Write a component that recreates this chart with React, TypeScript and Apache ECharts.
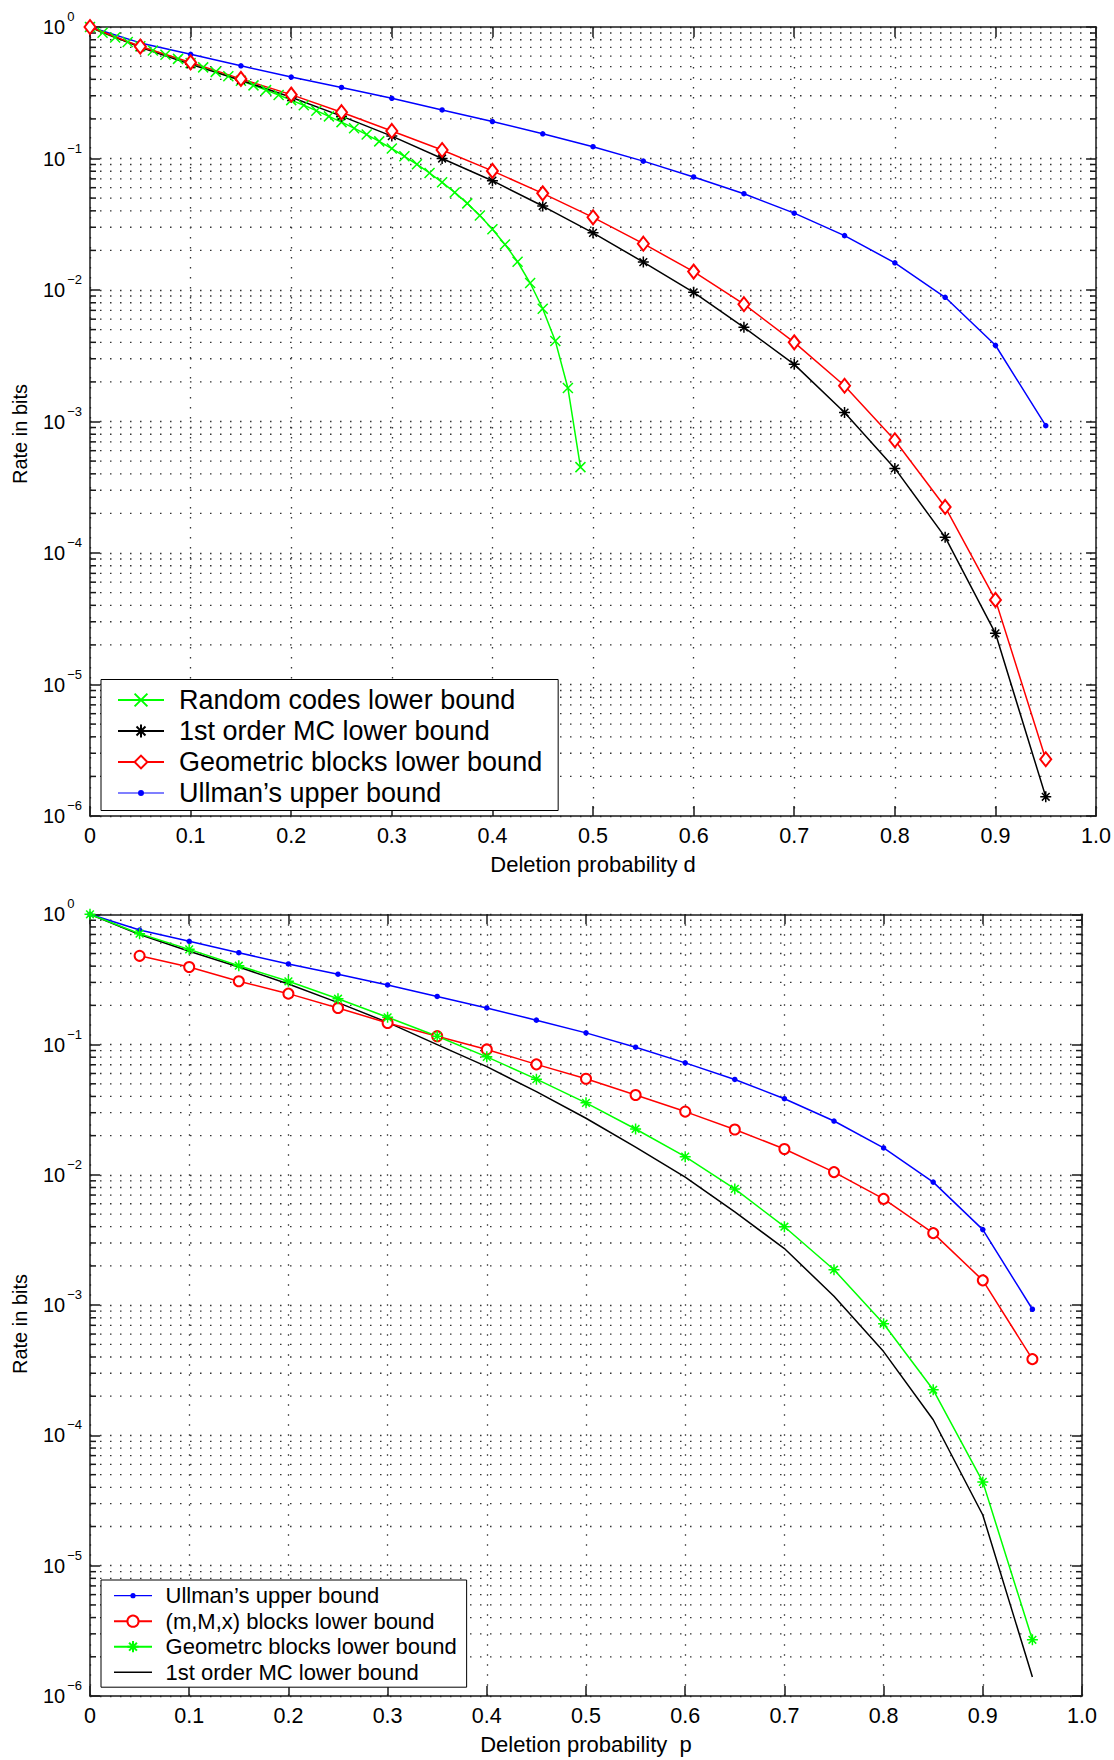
import React, { useEffect, useRef } from 'react';
import * as echarts from 'echarts';

const FONT = '"Liberation Sans", Arial, Helvetica, sans-serif';
const AXIS = '#1a1a1a';
const GRIDC = '#333';
const GREEN = '#00ff00';
const RED = '#ff0000';
const BLUE = '#0000ff';
const BLACK = '#000000';

// ---- data ----
const dGrid = [0, 0.05, 0.1, 0.15, 0.2, 0.25, 0.3, 0.35, 0.4, 0.45, 0.5, 0.55, 0.6, 0.65, 0.7, 0.75, 0.8, 0.85, 0.9, 0.95];
const dFine = [0, 0.0125, 0.025, 0.0375, 0.05, 0.0625, 0.075, 0.0875, 0.1, 0.1125, 0.125, 0.1375, 0.15, 0.1625, 0.175, 0.1875, 0.2, 0.2125, 0.225, 0.2375, 0.25, 0.2625, 0.275, 0.2875, 0.3, 0.3125, 0.325, 0.3375, 0.35, 0.3625, 0.375, 0.3875, 0.4, 0.4125, 0.425, 0.4375, 0.45, 0.4625, 0.475, 0.4875];
const randomCodes = [1, 0.903, 0.831, 0.769, 0.714, 0.663, 0.616, 0.572, 0.531, 0.493, 0.456, 0.422, 0.39, 0.36, 0.331, 0.304, 0.278, 0.254, 0.231, 0.209, 0.189, 0.17, 0.152, 0.135, 0.119, 0.104, 0.0903, 0.0776, 0.0659, 0.0552, 0.0456, 0.0368, 0.029, 0.0222, 0.0164, 0.0113, 0.0072, 0.0041, 0.0018, 0.00045];
const firstOrderMC = [1, 0.7, 0.52, 0.394, 0.292, 0.21, 0.148, 0.1, 0.0678, 0.0435, 0.0272, 0.0163, 0.0096, 0.0052, 0.00272, 0.00117, 0.00044, 0.000132, 0.0000245, 0.0000014];
const geometricBlocks = [1, 0.71, 0.538, 0.403, 0.306, 0.225, 0.162, 0.116, 0.0805, 0.0543, 0.0357, 0.0225, 0.0138, 0.0078, 0.004, 0.00187, 0.00072, 0.000224, 0.000044, 0.0000027];
const ullman = [1, 0.757, 0.62, 0.507, 0.416, 0.347, 0.287, 0.234, 0.191, 0.154, 0.123, 0.0955, 0.0724, 0.054, 0.0384, 0.0259, 0.0161, 0.0088, 0.0038, 0.00093];
const dMMx = [0.05, 0.1, 0.15, 0.2, 0.25, 0.3, 0.35, 0.4, 0.45, 0.5, 0.55, 0.6, 0.65, 0.7, 0.75, 0.8, 0.85, 0.9, 0.95];
const mMxBlocks = [0.48, 0.394, 0.306, 0.246, 0.191, 0.1466, 0.116, 0.0918, 0.0705, 0.0547, 0.041, 0.0306, 0.0223, 0.0158, 0.0105, 0.00654, 0.00357, 0.00155, 0.000385];
const xTickLabels = ['0', '0.1', '0.2', '0.3', '0.4', '0.5', '0.6', '0.7', '0.8', '0.9', '1.0'];
const minorMultipliers = [2, 3, 4, 5, 6, 7, 8, 9];
const minorDecades = [-6, -5, -4, -3, -2, -1];

const pairs = (xs: number[], ys: number[]) => xs.map((x, i) => [x, ys[i]]);
const minorValues = minorDecades.flatMap((k) => minorMultipliers.map((m) => m * Math.pow(10, k)));

const X_PATH = 'path://M0,0L10,10M10,0L0,10';
const STAR_PATH = 'path://M5,0L5,10M0,5L10,5M1.5,1.5L8.5,8.5M8.5,1.5L1.5,8.5';

const dotIcon = (w: number, r: number) =>
  `path://M0,${5 - 0.6}L${w},${5 - 0.6}L${w},${5 + 0.6}L0,${5 + 0.6}Z` +
  `M${w / 2 - r},5a${r},${r} 0 1,1 ${2 * r},0a${r},${r} 0 1,1 ${-2 * r},0Z`;

const dotted = { color: GRIDC, width: 1.3, type: [1.5, 8.5] as any };

function axesFor(xName: string) {
  const xCommon = {
    type: 'value',
    min: 0,
    max: 1,
    interval: 0.1,
    axisLine: { show: true, onZero: false, lineStyle: { color: AXIS, width: 1.5 } },
    axisTick: { show: true, inside: true, length: 10, lineStyle: { color: AXIS, width: 1.5 } },
  };
  const yCommon = {
    type: 'log',
    logBase: 10,
    min: 1e-6,
    max: 1,
    axisLine: { show: true, onZero: false, lineStyle: { color: AXIS, width: 1.5 } },
    axisTick: { show: true, inside: true, length: 10, lineStyle: { color: AXIS, width: 1.5 } },
  };
  return {
    xAxis: [
      {
        ...xCommon,
        position: 'bottom',
        axisLabel: {
          show: true,
          margin: 9,
          fontSize: 21.5,
          fontFamily: FONT,
          color: '#000',
          formatter: (v: number) => xTickLabels[Math.round(v * 10)],
        },
        splitLine: { show: true, lineStyle: dotted },
        name: xName,
        nameLocation: 'middle',
        nameGap: 37,
        nameTextStyle: { fontSize: 22, fontFamily: FONT, color: '#000' },
      },
      { ...xCommon, position: 'top', axisLabel: { show: false }, splitLine: { show: false } },
    ],
    yAxis: [
      {
        ...yCommon,
        position: 'left',
        axisLabel: {
          show: true,
          align: 'left',
          margin: 47,
          formatter: (v: number) => {
            const e = Math.round(Math.log10(v));
            return '{b|10}{e|' + (e === 0 ? '0' : '\u2212' + -e) + '}';
          },
          rich: {
            b: { fontSize: 20, fontFamily: FONT, color: '#000', padding: [7, 0, 7, 0] },
            e: { fontSize: 13, fontFamily: FONT, color: '#000', verticalAlign: 'top', padding: [0, 0, 0, 2] },
          },
        },
        splitLine: { show: true, lineStyle: dotted },
      },
      { ...yCommon, position: 'right', axisLabel: { show: false }, splitLine: { show: false } },
    ],
  };
}

const yTitle = (y: number) => ({
  type: 'text',
  x: 20,
  y,
  rotation: Math.PI / 2,
  silent: true,
  style: {
    text: 'Rate in bits',
    fontSize: 20,
    fontFamily: FONT,
    fill: '#000',
    align: 'center',
    verticalAlign: 'middle',
  },
});

const minorSeries = {
  type: 'custom',
  silent: true,
  z: 1,
  clip: false,
  xAxisIndex: 0,
  yAxisIndex: 0,
  data: minorValues.map((v) => [0, v]),
  renderItem: (params: any, api: any) => {
    const v = api.value(1);
    const a = api.coord([0, v]);
    const b = api.coord([1, v]);
    return {
      type: 'group',
      children: [
        { type: 'line', shape: { x1: a[0], y1: a[1], x2: b[0], y2: b[1] }, style: { stroke: GRIDC, lineWidth: 1.3, lineDash: [1.5, 8.5] } },
        { type: 'line', shape: { x1: a[0], y1: a[1], x2: a[0] + 6, y2: a[1] }, style: { stroke: AXIS, lineWidth: 1.5 } },
        { type: 'line', shape: { x1: b[0] - 6, y1: b[1], x2: b[0], y2: b[1] }, style: { stroke: AXIS, lineWidth: 1.5 } },
      ],
    };
  },
};

function topOption() {
  return {
    animation: false,
    backgroundColor: '#fff',
    grid: { left: 90, top: 27, width: 1007, height: 796, containLabel: false },
    ...axesFor('Deletion probability d'),
    graphic: [yTitle(434)],
    legend: {
      orient: 'vertical',
      left: 101,
      top: 679.5,
      padding: [7, 16, 4, 16],
      itemWidth: 46,
      itemHeight: 16,
      itemGap: 4,
      backgroundColor: '#fff',
      borderColor: '#000',
      borderWidth: 1,
      borderRadius: 0,
      selectedMode: false,
      symbolKeepAspect: true,
      textStyle: { fontSize: 27, lineHeight: 27, fontFamily: FONT, color: '#000', padding: [0, 0, 0, 10] },
      data: [
        { name: 'Random codes lower bound' },
        { name: '1st order MC lower bound' },
        { name: 'Geometric blocks lower bound' },
        { name: 'Ullman\u2019s upper bound', icon: dotIcon(46, 3), itemStyle: { color: BLUE, borderWidth: 0 } },
      ],
    },
    series: [
      minorSeries,
      {
        name: 'Ullman\u2019s upper bound',
        type: 'line',
        z: 3,
        silent: true,
        data: pairs(dGrid, ullman),
        symbol: 'circle',
        symbolSize: 5.5,
        lineStyle: { color: BLUE, width: 1.5 },
        itemStyle: { color: BLUE },
      },
      {
        name: 'Random codes lower bound',
        type: 'line',
        z: 3,
        silent: true,
        data: pairs(dFine, randomCodes),
        symbol: X_PATH,
        symbolSize: 10,
        lineStyle: { color: GREEN, width: 1.5 },
        itemStyle: { color: GREEN, borderColor: GREEN, borderWidth: 1.5 },
      },
      {
        name: '1st order MC lower bound',
        type: 'line',
        z: 3,
        silent: true,
        data: pairs(dGrid, firstOrderMC),
        symbol: STAR_PATH,
        symbolSize: 11,
        lineStyle: { color: BLACK, width: 1.5 },
        itemStyle: { color: BLACK, borderColor: BLACK, borderWidth: 1.5 },
      },
      {
        name: 'Geometric blocks lower bound',
        type: 'line',
        z: 3,
        silent: true,
        data: pairs(dGrid, geometricBlocks),
        symbol: 'emptyDiamond',
        symbolSize: [11, 14],
        lineStyle: { color: RED, width: 1.5 },
        itemStyle: { color: RED, borderColor: RED, borderWidth: 1.5 },
      },
    ],
  };
}

function bottomOption() {
  return {
    animation: false,
    backgroundColor: '#fff',
    grid: { left: 90, top: 34.3, width: 992, height: 784.7, containLabel: false },
    ...axesFor('Deletion probability  p'),
    graphic: [yTitle(444)],
    legend: {
      orient: 'vertical',
      left: 101,
      top: 700,
      padding: [4.7, 10, 4, 12],
      itemWidth: 38,
      itemHeight: 14,
      itemGap: 3.5,
      backgroundColor: '#fff',
      borderColor: '#000',
      borderWidth: 1,
      borderRadius: 0,
      selectedMode: false,
      symbolKeepAspect: true,
      textStyle: { fontSize: 22, lineHeight: 22, fontFamily: FONT, color: '#000', padding: [0, 0, 0, 8.6] },
      data: [
        { name: 'Ullman\u2019s upper bound', icon: dotIcon(38, 2.6), itemStyle: { color: BLUE, borderWidth: 0 } },
        { name: '(m,M,x) blocks lower bound' },
        { name: 'Geometrc blocks lower bound' },
        { name: '1st order MC lower bound', icon: 'path://M0,0L38,0L38,1.6L0,1.6Z', itemStyle: { color: BLACK, borderWidth: 0 } },
      ],
    },
    series: [
      minorSeries,
      {
        name: '1st order MC lower bound',
        type: 'line',
        z: 3,
        silent: true,
        data: pairs(dGrid, firstOrderMC),
        symbol: 'none',
        lineStyle: { color: BLACK, width: 1.5 },
        itemStyle: { color: BLACK },
      },
      {
        name: 'Ullman\u2019s upper bound',
        type: 'line',
        z: 3,
        silent: true,
        data: pairs(dGrid, ullman),
        symbol: 'circle',
        symbolSize: 5.5,
        lineStyle: { color: BLUE, width: 1.5 },
        itemStyle: { color: BLUE },
      },
      {
        name: '(m,M,x) blocks lower bound',
        type: 'line',
        z: 3,
        silent: true,
        data: pairs(dMMx, mMxBlocks),
        symbol: 'emptyCircle',
        symbolSize: 10,
        lineStyle: { color: RED, width: 1.5 },
        itemStyle: { color: RED, borderColor: RED, borderWidth: 1.5 },
      },
      {
        name: 'Geometrc blocks lower bound',
        type: 'line',
        z: 3,
        silent: true,
        data: pairs(dGrid, geometricBlocks),
        symbol: STAR_PATH,
        symbolSize: 11,
        lineStyle: { color: GREEN, width: 1.5 },
        itemStyle: { color: GREEN, borderColor: GREEN, borderWidth: 1.5 },
      },
    ],
  };
}

function Chart({ option, height }: { option: any; height: number }) {
  const ref = useRef<HTMLDivElement | null>(null);
  useEffect(() => {
    if (!ref.current) return;
    const chart = echarts.init(ref.current, undefined, { renderer: 'svg' });
    chart.setOption(option);
    return () => chart.dispose();
  }, [option]);
  return <div ref={ref} style={{ width: 1114, height }} />;
}

const TOP = topOption();
const BOTTOM = bottomOption();

export default function App() {
  return (
    <div style={{ position: 'absolute', left: 0, top: 0, width: 1114, height: 1760, background: '#fff' }}>
      <Chart option={TOP} height={880} />
      <Chart option={BOTTOM} height={880} />
    </div>
  );
}
